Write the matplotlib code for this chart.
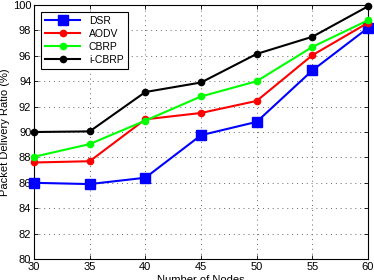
import numpy as np
import matplotlib.pyplot as plt

plt.rcParams['font.family'] = ['Liberation Sans', 'DejaVu Sans']

nodes = [30, 35, 40, 45, 50, 55, 60]
dsr = [86.0, 85.9, 86.4, 89.75, 90.8, 94.85, 98.2]
aodv = [87.6, 87.7, 91.0, 91.5, 92.45, 96.05, 98.6]
cbrp = [88.05, 89.05, 90.9, 92.8, 94.0, 96.7, 98.8]
icbrp = [90.0, 90.05, 93.15, 93.9, 96.15, 97.5, 99.9]

fig = plt.figure(figsize=(3.74, 2.8), dpi=100)
ax = fig.add_axes([0.091, 0.075, 0.893, 0.907])

ax.plot(nodes, dsr, color='#0000ff', marker='s', markersize=7, lw=1.5, label='DSR', clip_on=False, zorder=3)
ax.plot(nodes, aodv, color='#ff0000', marker='o', markersize=4.5, lw=1.5, label='AODV', clip_on=False, zorder=3)
ax.plot(nodes, cbrp, color='#00ff00', marker='o', markersize=4.5, lw=1.5, label='CBRP', clip_on=False, zorder=3)
ax.plot(nodes, icbrp, color='#000000', marker='o', markersize=4.5, lw=1.5, label='i-CBRP', clip_on=False, zorder=3)

ax.set_xlim(30, 60)
ax.set_ylim(80, 100)
ax.set_xticks(nodes)
ax.set_yticks(np.arange(80, 101, 2))
ax.tick_params(labelsize=8, direction='in', length=3, width=0.6, top=True, right=True, pad=2)
ax.grid(True, linestyle=(0, (1, 4)), color='#666666', lw=0.7)
for s in ax.spines.values():
    s.set_linewidth(0.8)

ax.set_xlabel('Number of Nodes', fontsize=8, labelpad=2)
ax.set_ylabel('Packet Delivery Ratio (%)', fontsize=8, labelpad=2)

leg = ax.legend(loc='upper left', fontsize=7.5, fancybox=False, framealpha=1,
                edgecolor='black', handlelength=3.4, borderpad=0.4, labelspacing=0.3,
                bbox_to_anchor=(0.005, 0.995))
leg.get_frame().set_linewidth(0.8)

fig.savefig('out.png', dpi=100)
